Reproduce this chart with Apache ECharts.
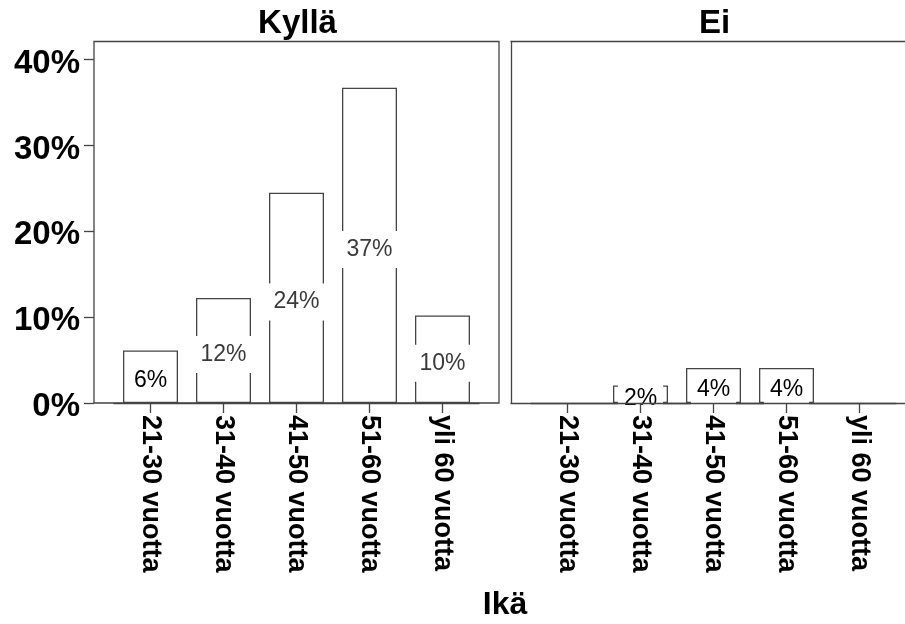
<!DOCTYPE html>
<html><head><meta charset="utf-8">
<script src="https://cdn.jsdelivr.net/npm/echarts@6/dist/echarts.min.js"></script>
<style>html,body{margin:0;padding:0;background:#fff}#c{width:905px;height:624px}</style>
</head><body><div id="c"></div>
<script>
const categories = ['21-30 vuotta', '31-40 vuotta', '41-50 vuotta', '51-60 vuotta', 'yli 60 vuotta'];
const panelTitles = ['Kyllä', 'Ei'];
const kyllaValues = [6.12, 12.24, 24.49, 36.73, 10.20];
const eiValues = [null, 2.04, 4.08, 4.08, null];
const yTicks = [0, 10, 20, 30, 40];
const axisTitle = 'Ikä';
const yMax = 42.12;

const LINE = '#444';
const boxW = 405, boxH = 361.5, boxTop = 41.5;
const boxLeft = [94, 511];
const innerInset = 20, innerW = 365;

const grids = [
  {left: boxLeft[0], top: boxTop, width: boxW, height: boxH, show: true, borderColor: LINE, borderWidth: 1.3, backgroundColor: 'transparent', outerBoundsMode: 'none'},
  {left: boxLeft[1], top: boxTop, width: boxW, height: boxH, show: false, outerBoundsMode: 'none'}
];
boxLeft.forEach(l => grids.push({left: l + innerInset, top: boxTop, width: innerW, height: boxH, show: false, outerBoundsMode: 'none'}));

const xFont = {fontFamily: '"Liberation Sans", Arial, sans-serif', fontWeight: 'bold', fontSize: 27, color: '#000'};
const edgeAxis = (extra) => Object.assign({type: 'value', show: true,
  axisLine: {show: true, onZero: false, lineStyle: {color: LINE, width: 1.3}},
  axisTick: {show: false}, axisLabel: {show: false}, splitLine: {show: false}}, extra);

const xAxes = [
  {gridIndex: 0, type: 'value', show: false},
  edgeAxis({gridIndex: 1, position: 'bottom'})
];
[2, 3].forEach(g => xAxes.push({
  gridIndex: g, type: 'category', data: categories, z: 5,
  axisLine: {show: true, lineStyle: {color: LINE, width: 1.3}},
  axisTick: {show: true, alignWithLabel: true, length: 10, lineStyle: {color: LINE, width: 1.3}},
  axisLabel: Object.assign({rotate: -90, margin: 12, interval: 0}, xFont),
  splitLine: {show: false}
}));
xAxes.push(edgeAxis({gridIndex: 1, position: 'top'}));

const yAxes = [
  {gridIndex: 0, type: 'value', min: 0, max: yMax,
   axisLine: {show: false},
   axisTick: {show: true, length: 10, customValues: yTicks, lineStyle: {color: LINE, width: 1.3}},
   axisLabel: {customValues: yTicks, formatter: '{value}%', margin: 14, verticalAlign: 'top', lineHeight: 8,
               fontFamily: '"Liberation Sans", Arial, sans-serif', fontWeight: 'bold', fontSize: 33, color: '#000'},
   splitLine: {show: false}},
  edgeAxis({gridIndex: 1, min: 0, max: yMax, position: 'left'}),
  {gridIndex: 2, type: 'value', min: 0, max: yMax, show: false, splitLine: {show: false}},
  {gridIndex: 3, type: 'value', min: 0, max: yMax, show: false, splitLine: {show: false}}
];

function barSeries(vals, idx) {
  return {
    type: 'bar', xAxisIndex: idx, yAxisIndex: idx, barWidth: 55,
    data: vals.map(v => v == null ? null : {value: v, label: {color: v < 8 ? '#000' : '#3a3a3a'}}),
    itemStyle: {color: '#fff', borderColor: LINE, borderWidth: 1.3},
    label: {show: true, position: 'inside', offset: [0, 4], formatter: p => Math.round(p.value) + '%',
            fontSize: 23, fontFamily: '"Liberation Sans", Arial, sans-serif',
            backgroundColor: '#fff', padding: [7, 6]},
    emphasis: {disabled: true}, silent: true
  };
}

const titleFont = 'bold 33px "Liberation Sans", Arial, sans-serif';
const graphics = panelTitles.map((t, i) => ({
  type: 'text', x: boxLeft[i] + boxW / 2 + 1, y: 24,
  style: {text: t, font: titleFont, fill: '#000', textAlign: 'center', textVerticalAlign: 'middle'}
}));
graphics.push({type: 'text', x: 505, y: 605,
  style: {text: axisTitle, font: 'bold 32px "Liberation Sans", Arial, sans-serif', fill: '#000', textAlign: 'center', textVerticalAlign: 'middle'}});

const chart = echarts.init(document.getElementById('c'));
chart.setOption({
  animation: false,
  backgroundColor: '#fff',
  grid: grids,
  xAxis: xAxes,
  yAxis: yAxes,
  series: [barSeries(kyllaValues, 2), barSeries(eiValues, 3)],
  graphic: graphics
});
</script></body></html>
